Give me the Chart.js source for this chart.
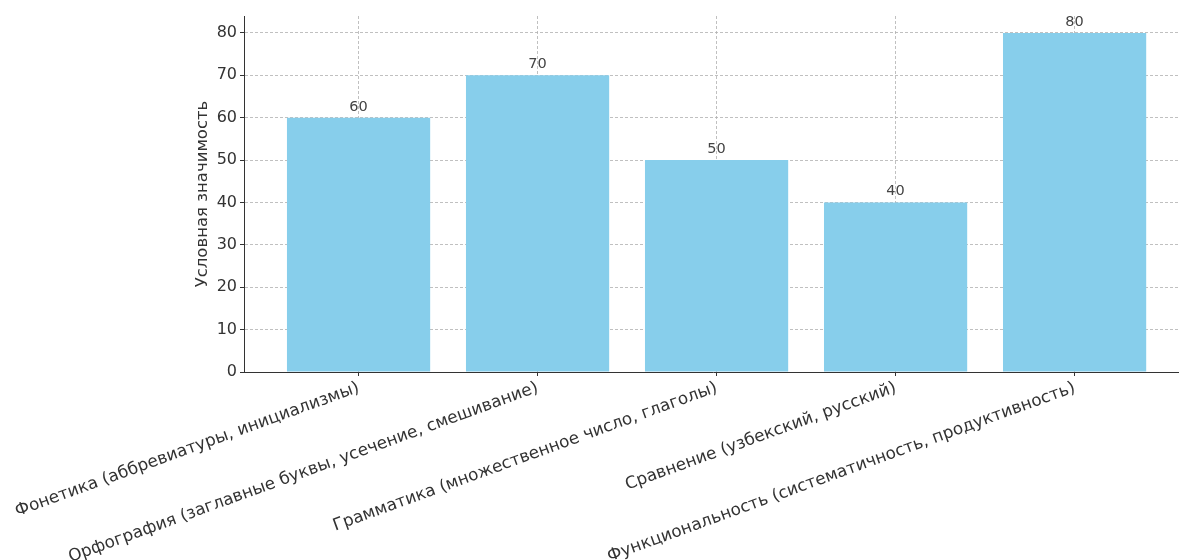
<!DOCTYPE html>
<html>
<head>
<meta charset="utf-8">
<script src="https://cdn.jsdelivr.net/npm/chart.js@4.4.1/dist/chart.umd.min.js"></script>
<style>
  html, body { margin: 0; padding: 0; background: #fff; overflow: hidden; width: 1179px; height: 560px; }
  #wrap { position: absolute; left: 0; top: 0; width: 1190px; height: 560px; }
</style>
</head>
<body>
<div id="wrap"><canvas id="c" width="1190" height="560"></canvas></div>
<script>
const categories = [
  "Фонетика (аббревиатуры, инициализмы)",
  "Орфография (заглавные буквы, усечение, смешивание)",
  "Грамматика (множественное число, глаголы)",
  "Сравнение (узбекский, русский)",
  "Функциональность (систематичность, продуктивность)"
];
const values = [60, 70, 50, 40, 80];
const yTicks = [0, 10, 20, 30, 40, 50, 60, 70, 80];
const yLabel = "Условная значимость";

const FONT = "'DejaVu Sans', sans-serif";
const gridColor = "rgba(176,176,176,0.8)";
const axisColor = "#333333";

const valueLabels = {
  id: "valueLabels",
  afterDatasetsDraw(chart) {
    const ctx = chart.ctx;
    const meta = chart.getDatasetMeta(0);
    ctx.save();
    ctx.font = "14.5px " + FONT;
    ctx.fillStyle = "#444444";
    ctx.textAlign = "center";
    ctx.textBaseline = "alphabetic";
    meta.data.forEach((bar, i) => {
      ctx.fillText(String(values[i]), bar.x, bar.y - 7);
    });
    ctx.restore();
  }
};

new Chart(document.getElementById("c"), {
  type: "bar",
  data: {
    datasets: [{
      data: values.map((v, i) => ({ x: i, y: v })),
      backgroundColor: "#87CEEB",
      borderWidth: 0,
      barPercentage: 0.8,
      categoryPercentage: 1.0
    }]
  },
  plugins: [valueLabels],
  options: {
    responsive: false,
    animation: false,
    devicePixelRatio: 1,
    layout: { padding: { left: 193, top: 16, right: 8, bottom: 0 } },
    plugins: { legend: { display: false }, tooltip: { enabled: false } },
    scales: {
      x: {
        type: "linear",
        offset: false,
        min: -0.64,
        max: 4.6,
        z: 1,
        afterBuildTicks(scale) { scale.ticks = categories.map((_, i) => ({ value: i })); },
        afterFit(scale) {
          scale.height = 188;
          scale.paddingLeft = 0;
          scale.paddingRight = 0;
        },
        ticks: {
          autoSkip: false,
          minRotation: 20,
          maxRotation: 20,
          padding: 2,
          color: "#333333",
          font: { family: FONT, size: 16.8 },
          callback: (v) => categories[v]
        },
        grid: {
          offset: false,
          color: gridColor,
          lineWidth: 1,
          drawTicks: true,
          tickLength: 4,
          tickColor: axisColor,
          tickBorderDash: [],
          tickWidth: 1
        },
        border: { display: true, color: axisColor, width: 1, dash: [3, 2] }
      },
      y: {
        min: 0,
        max: 84,
        z: 1,
        afterBuildTicks(scale) { scale.ticks = yTicks.map(v => ({ value: v })); },
        afterFit(scale) {
          scale.width = 51;
          scale.paddingTop = 0;
          scale.paddingBottom = 0;
        },
        ticks: {
          includeBounds: false,
          padding: 3,
          color: "#333333",
          font: { family: FONT, size: 16 }
        },
        grid: {
          color: gridColor,
          lineWidth: 1,
          drawTicks: true,
          tickLength: 4,
          tickColor: axisColor,
          tickBorderDash: [],
          tickWidth: 1
        },
        border: { display: true, color: axisColor, width: 1, dash: [3, 2] },
        title: {
          display: true,
          text: yLabel,
          color: "#333333",
          padding: 0,
          font: { family: FONT, size: 16.5 }
        }
      }
    }
  }
});
</script>
</body>
</html>
